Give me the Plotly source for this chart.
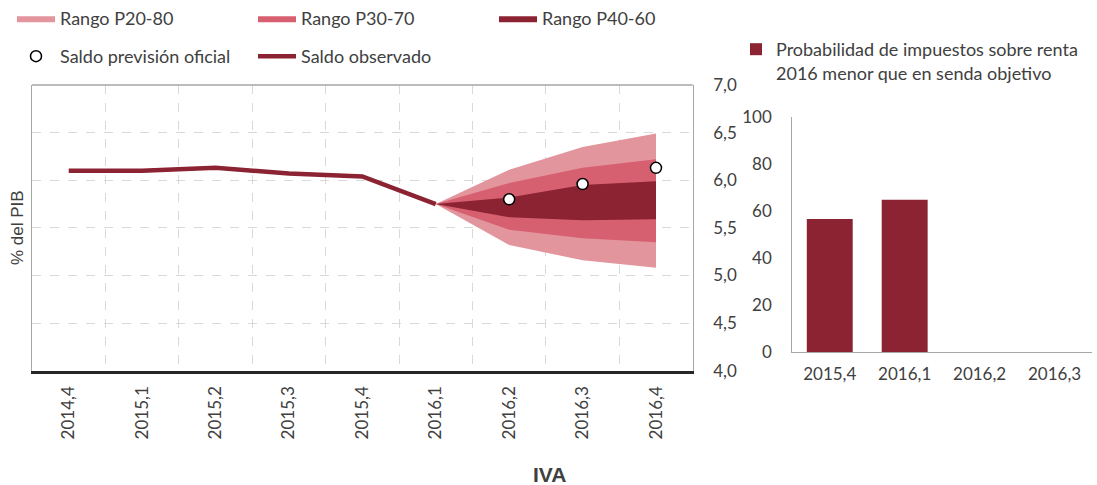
import plotly.graph_objects as go

# ---------------- data ----------------
quarters = ["2014,4", "2015,1", "2015,2", "2015,3", "2015,4",
            "2016,1", "2016,2", "2016,3", "2016,4"]
observed_q = ["2014,4", "2015,1", "2015,2", "2015,3", "2015,4", "2016,1"]
observed = [6.10, 6.10, 6.13, 6.07, 6.04, 5.75]

fan_q = ["2016,1", "2016,2", "2016,3", "2016,4"]
p20 = [5.75, 5.32, 5.16, 5.08]
p30 = [5.75, 5.48, 5.39, 5.35]
p40 = [5.75, 5.61, 5.58, 5.59]
p60 = [5.75, 5.82, 5.95, 5.99]
p70 = [5.75, 5.97, 6.13, 6.22]
p80 = [5.75, 6.11, 6.35, 6.49]

official_q = ["2016,2", "2016,3", "2016,4"]
official = [5.80, 5.96, 6.13]

prob_q = ["2015,4", "2016,1", "2016,2", "2016,3"]
prob = [56.6, 64.8, 0, 0]

# ---------------- style ----------------
W, H = 1097, 485
FONT = "Lato"
TXT = "#404040"
DARK = "#8B2332"
MID = "#D6606F"
LIGHT = "#E3959E"
GRID = "#D9D9D9"
FRAME = "#A6A6A6"

fig = go.Figure()


def band(lower, upper, name, color):
    fig.add_trace(go.Scatter(
        x=fan_q + fan_q[::-1], y=upper + lower[::-1],
        fill="toself", fillcolor=color, mode="lines",
        line=dict(width=0, color=color), name=name,
        legend="legend", hoverinfo="skip", xaxis="x", yaxis="y"))


band(p20, p80, "Rango P20-80", LIGHT)
band(p30, p70, "Rango P30-70", MID)
band(p40, p60, "Rango P40-60", DARK)

fig.add_trace(go.Scatter(
    x=observed_q, y=observed, mode="lines", name="Saldo observado",
    line=dict(color=DARK, width=4.5), legend="legend2",
    xaxis="x", yaxis="y"))

fig.add_trace(go.Scatter(
    x=official_q, y=official, mode="markers", name="Saldo previsión oficial",
    marker=dict(symbol="circle", size=11, color="white",
                line=dict(color="black", width=1.5)),
    legend="legend2", legendrank=1, xaxis="x", yaxis="y"))

fig.add_trace(go.Bar(
    x=prob_q, y=prob, marker=dict(color=DARK, line=dict(width=0)),
    name="Probabilidad de impuestos sobre renta<br>2016 menor que en senda objetivo",
    legend="legend3", xaxis="x2", yaxis="y2"))

# ---------------- layout ----------------
left_x0, left_x1 = 32 / W, 692.7 / W
left_y0, left_y1 = (H - 370.7) / H, (H - 85) / H
right_x0, right_x1 = 792.3 / W, 1092 / W
right_y0, right_y1 = (H - 352) / H, (H - 117) / H

tick_font = dict(family=FONT, size=17, color=TXT)

leg_common = dict(orientation="h", xanchor="left", yanchor="top",
                  font=dict(family=FONT, size=18, color=TXT),
                  bgcolor="rgba(0,0,0,0)", borderwidth=0,
                  itemclick=False, itemdoubleclick=False)

fig.update_layout(
    width=W, height=H,
    margin=dict(l=0, r=0, t=0, b=0, autoexpand=False),
    paper_bgcolor="white", plot_bgcolor="white",
    separators=",.",
    font=dict(family=FONT, size=17, color=TXT),
    showlegend=True,
    bargap=0.387,
    legend=dict(x=12 / W, y=1.0, entrywidth=188, itemwidth=38,
                traceorder="normal", **leg_common),
    legend2=dict(x=12 / W, y=1 - 38 / H, entrywidth=188, itemwidth=38,
                 traceorder="normal", **leg_common),
    legend3=dict(x=736 / W, y=1 - 31 / H, valign="top", **leg_common),
    xaxis=dict(domain=[left_x0, left_x1], anchor="y", type="category",
               categoryorder="array", categoryarray=quarters,
               range=[-0.5, 8.5], tickson="boundaries",
               showgrid=True, gridcolor=GRID, griddash="dash", gridwidth=1,
               ticks="", tickangle=-90, tickfont=tick_font,
               ticklabelstandoff=6, automargin=False,
               showline=True, linecolor="#262626", linewidth=2.5,
               zeroline=False, fixedrange=True),
    yaxis=dict(domain=[left_y0, left_y1], anchor="x", side="right",
               range=[4, 7], dtick=0.5, tick0=4, tickformat=".1f",
               showgrid=True, gridcolor=GRID, griddash="dash", gridwidth=1,
               ticks="", tickfont=tick_font, ticklabelstandoff=16,
               automargin=False,
               showline=True, mirror=True, linecolor=FRAME, linewidth=1.3,
               zeroline=False, fixedrange=True),
    xaxis2=dict(domain=[right_x0, right_x1], anchor="y2", type="category",
                categoryorder="array", categoryarray=prob_q,
                showgrid=False, ticks="", tickfont=tick_font,
                ticklabelstandoff=6, automargin=False,
                showline=True, linecolor=FRAME, linewidth=1.3,
                zeroline=False, fixedrange=True),
    yaxis2=dict(domain=[right_y0, right_y1], anchor="x2",
                range=[0, 100], dtick=20, tick0=0,
                showgrid=False, ticks="", tickfont=tick_font,
                ticklabelstandoff=16, automargin=False,
                showline=True, linecolor=FRAME, linewidth=1.3,
                zeroline=False, fixedrange=True),
    shapes=[dict(type="line", xref="x domain", yref="y domain",
                 x0=0, x1=1, y0=1, y1=1,
                 line=dict(color=FRAME, width=1.3), layer="above")],
    annotations=[
        dict(text="% del PIB", textangle=-90, xref="paper", yref="paper",
             x=17 / W, y=(H - 228) / H, xanchor="center", yanchor="middle",
             showarrow=False,
             font=dict(family="Liberation Sans", size=17, color=TXT)),
        dict(text="<b>IVA</b>", xref="paper", yref="paper",
             x=549 / W, y=(H - 474) / H, xanchor="center", yanchor="middle",
             showarrow=False,
             font=dict(family="Liberation Sans", size=21, color=TXT)),
    ],
)

fig.write_html(
    "out.html",
    config={"displayModeBar": False},
    post_script="document.body.style.margin='0';"
                "document.body.style.overflow='hidden';")
